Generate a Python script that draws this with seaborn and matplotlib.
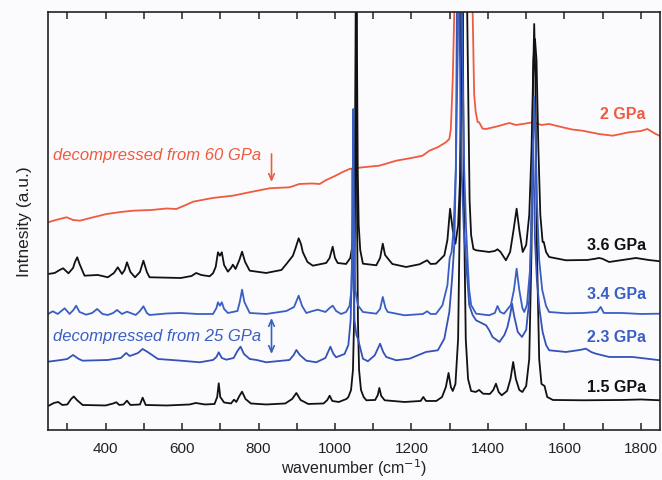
import matplotlib
matplotlib.use("Agg")
import matplotlib.pyplot as plt
from matplotlib.ticker import MultipleLocator
import pandas as pd
import seaborn as sns

# Raman spectra, hand-read (wavenumber in cm^-1, intensity in arbitrary offset units)
wn_2gpa = [250, 270, 298, 315, 333, 360, 403, 440, 472, 520, 560, 585, 610, 629, 680,
           733, 780, 829, 881, 907, 940, 960, 977, 1000, 1020, 1038, 1073, 1116, 1160,
           1200, 1229, 1247, 1270, 1290, 1299, 1303, 1308, 1312, 1320, 1335, 1352, 1360,
           1364, 1368, 1373, 1377, 1386, 1395, 1421, 1456, 1473, 1491, 1517, 1540, 1560,
           1595, 1620, 1647, 1690, 1726, 1769, 1800, 1817, 1839, 1850]
int_2gpa = [207.7, 210, 212.7, 210, 209.3, 212, 216, 218, 219.3, 220, 221.5, 221, 225,
            228.3, 232, 234.3, 238, 241.7, 242.7, 246, 246.5, 246, 250, 254, 258, 261,
            262.7, 264.3, 269.3, 272, 274.3, 279.3, 283, 287.7, 291, 301, 351, 418, 500,
            560, 500, 418, 335, 318, 308, 307.7, 301.3, 301, 303.3, 307, 305, 306, 307.7,
            305, 306, 302.7, 300.5, 299.3, 296, 294.3, 297.7, 299, 301, 296, 294]

wn_36 = [250, 267, 280, 289, 303, 315, 320, 326, 332, 345, 380, 406, 422, 432, 443, 450,
         456, 465, 477, 490, 499, 508, 515, 597, 625, 637, 650, 672, 681, 688, 694, 699,
         704, 710, 720, 728, 733, 740, 750, 757, 765, 777, 820, 860, 873, 890, 897, 905,
         911, 916, 928, 942, 977, 986, 994, 1000, 1007, 1029, 1040, 1046, 1050, 1052.5,
         1054.5, 1056, 1057.5, 1059.5, 1062, 1066, 1073, 1108, 1118, 1125, 1131, 1142,
         1150, 1186, 1221, 1241, 1250, 1264, 1286, 1294, 1301, 1308, 1315, 1322, 1328,
         1333, 1340, 1347, 1352, 1356, 1362, 1369, 1403, 1418, 1425, 1433, 1447, 1458,
         1467, 1475, 1482, 1491, 1500, 1508, 1514, 1519, 1523, 1527, 1532, 1537, 1543,
         1546, 1552, 1560, 1604, 1660, 1682, 1690, 1699, 1717, 1787, 1820, 1850]
int_36 = [156, 157, 160, 161.7, 156.7, 162, 168, 172.7, 166, 154.3, 155, 152.7, 157,
          162.7, 156, 160, 167.7, 158, 152.7, 158, 169.3, 158, 152.7, 152, 154, 157, 155,
          153.7, 156.7, 163, 177.7, 174.3, 177.7, 165, 158.3, 162, 165.3, 161, 170, 178.3,
          168, 159.3, 157, 160, 166, 174.3, 182, 191.7, 186, 177.7, 168, 164.3, 167, 172,
          183.3, 172, 167, 166, 172, 185, 205, 260, 380, 600, 380, 260, 205, 180, 166.3,
          164.7, 172, 186.3, 175, 169.7, 166, 163, 165.7, 169.7, 166, 166.3, 174.7, 190,
          221.3, 200, 186.3, 205, 260, 380, 600, 380, 230, 195, 181, 179.7, 178, 179, 180.7,
          178, 169.7, 178, 200, 221.3, 200, 178, 185, 215, 280, 370, 391, 370, 280, 215,
          188, 188, 178, 173, 169.7, 170, 171.3, 172, 171.3, 168, 172, 170, 168.7]

wn_34 = [250, 262, 275, 293, 306, 316, 323, 332, 349, 365, 378, 392, 406, 420, 430, 443,
         456, 479, 490, 499, 508, 515, 560, 597, 640, 681, 690, 694, 699, 704, 710, 720,
         745, 751, 757, 763, 777, 820, 873, 893, 905, 914, 925, 942, 955, 975, 986, 994,
         1003, 1016, 1029, 1038, 1043, 1046, 1048, 1050, 1053, 1060, 1073, 1108, 1118,
         1125, 1132, 1138, 1182, 1230, 1241, 1250, 1264, 1281, 1294, 1300, 1305, 1310,
         1316, 1321, 1327, 1333, 1338, 1343, 1348, 1351, 1356, 1369, 1403, 1418, 1425,
         1432, 1442, 1460, 1468, 1475, 1482, 1490, 1495, 1502, 1510, 1515, 1519, 1521,
         1524, 1528, 1534, 1542, 1552, 1560, 1604, 1650, 1685, 1695, 1703, 1750, 1800,
         1850]
int_34 = [116, 118.7, 116, 121.7, 116, 120, 124.3, 118, 115.3, 117, 121, 116, 115, 117,
          120, 116, 118.3, 115, 119, 123.7, 117, 115, 116.5, 117, 116, 116, 122, 127.7,
          124.3, 127.7, 121, 117, 119, 128, 140.3, 128, 117, 116, 119, 123, 134.3, 124,
          117, 119, 120.3, 118, 122, 124.3, 119, 116, 118, 124, 140, 190, 321, 190, 140,
          124.7, 118, 116.3, 121, 133, 122, 118, 114.7, 116, 118.7, 116, 116, 124.7,
          144.7, 172, 178, 200, 260, 380, 600, 380, 260, 200, 160, 140, 125, 116.3, 114.7,
          117, 124, 118, 116.3, 125, 140, 161.3, 140, 122, 118, 125, 160, 230, 300, 333,
          300, 230, 170, 140, 124, 118, 116.7, 117, 118, 123, 117, 117, 116, 116.3]

wn_23 = [250, 284, 300, 315, 330, 340, 406, 440, 454, 463, 471, 485, 497, 510, 537, 597,
         646, 681, 690, 696, 704, 716, 735, 745, 753, 762, 777, 795, 820, 881, 892, 899,
         908, 925, 951, 975, 988, 996, 1003, 1025, 1035, 1041, 1044, 1046, 1048, 1051,
         1056, 1060, 1073, 1086, 1104, 1118, 1126, 1134, 1160, 1195, 1238, 1269, 1286,
         1299, 1306, 1312, 1316, 1322, 1326, 1331, 1337, 1343, 1351, 1360, 1369, 1395,
         1403, 1412, 1430, 1443, 1451, 1458, 1463, 1468, 1478, 1489, 1500, 1508, 1513,
         1518, 1523, 1528, 1535, 1543, 1552, 1560, 1604, 1640, 1656, 1670, 1682, 1717,
         1778, 1850]
int_23 = [68.3, 70, 71, 75, 71, 69.3, 70, 72, 77, 74, 75, 77, 81, 78, 71, 69.3, 67.7, 70,
          73, 77.7, 72, 70.3, 72, 79, 83.3, 76, 71, 70, 67.7, 70, 75, 80, 75, 69.3, 67.7,
          72, 83.3, 76, 72.7, 76, 85, 110, 160, 262, 160, 110, 95, 91.3, 71.3, 68.7, 74.7,
          86.3, 78, 73, 69.7, 71.3, 78, 79.7, 91.3, 118, 150, 185, 260, 600, 400, 260,
          200, 168, 125, 115, 109.7, 104.7, 100, 93, 88, 95, 103, 115, 126.3, 115, 98, 93,
          100, 130, 190, 290, 190, 150, 120, 98, 85, 79.7, 78, 80, 81.3, 78, 76.3, 73, 73,
          69.7]

wn_15 = [250, 265, 276, 287, 300, 310, 317, 325, 340, 400, 420, 428, 436, 447, 456, 465,
         490, 497, 505, 560, 620, 636, 660, 685, 692, 696, 700, 710, 728, 736, 742, 750,
         757, 766, 780, 820, 870, 888, 899, 910, 930, 970, 980, 986, 993, 1010, 1030, 1035,
         1042, 1047, 1050, 1052, 1053.5, 1055, 1056.5, 1058, 1060, 1063, 1068, 1075, 1082,
         1105, 1112, 1116, 1121, 1130, 1182, 1224, 1231, 1238, 1265, 1280, 1290, 1297,
         1303, 1308, 1315, 1322, 1327, 1332, 1337, 1342, 1348, 1356, 1368, 1377, 1387,
         1405, 1414, 1421, 1428, 1436, 1450, 1459, 1466, 1473, 1482, 1490, 1500, 1508,
         1514, 1518, 1521, 1524, 1528, 1534, 1540, 1548, 1555, 1570, 1650, 1750, 1800,
         1850]
int_15 = [24, 27, 28, 25, 25.5, 31, 33.5, 30, 25, 24.5, 26.5, 27.7, 25, 25.5, 29.3, 25,
          25.5, 32.3, 25, 24.5, 25.5, 27, 25.5, 26, 33, 46.7, 33, 27.5, 26.5, 30.3, 28, 34,
          38.3, 31, 26.5, 25.5, 26.5, 31, 37, 30, 26, 26.5, 30, 34.3, 29, 28, 31, 33, 40,
          60, 110, 200, 330, 560, 330, 200, 110, 60, 40, 33, 29.7, 30, 35, 42, 34, 29.7,
          28, 29, 33, 29, 29, 33, 43, 57, 43, 39, 46, 91, 231, 560, 231, 91, 51, 39, 38,
          40, 36.3, 36, 40, 46.3, 38, 34.7, 39, 51, 68, 51, 40, 38, 44, 71, 181, 351, 406,
          351, 181, 71, 46, 44, 33, 30, 29.7, 30, 30.5, 29.7]

# Pressure labels at the right end of each trace
pressure_labels = ["2 GPa", "3.6 GPa", "3.4 GPa", "2.3 GPa", "1.5 GPa"]
label_heights = [316, 185, 136, 93, 43]

RED = "#f05a3f"
BLUE = "#3a5fc4"
BLUE_DARK = "#3452b8"
BLACK = "#111111"

sns.set_style("ticks")
plt.rcParams["font.family"] = ["Liberation Sans", "DejaVu Sans"]

fig = plt.figure(figsize=(6.62, 4.81), dpi=100, facecolor="#fbfbfd")
ax = fig.add_axes([0.0728, 0.104, 0.9242, 0.869])
ax.set_facecolor("#fbfbfd")

series = [
    (wn_2gpa, int_2gpa, RED),
    (wn_15, int_15, BLACK),
    (wn_36, int_36, BLACK),
    (wn_23, int_23, BLUE_DARK),
    (wn_34, int_34, BLUE),
]
for wn, inten, col in series:
    df = pd.DataFrame({"wn": wn, "I": inten})
    sns.lineplot(data=df, x="wn", y="I", ax=ax, color=col, lw=1.3,
                 estimator=None, sort=False)

ax.set_xlim(250, 1850)
ax.set_ylim(0, 418)

# right-hand pressure labels
label_colors = [RED, BLACK, BLUE, BLUE, BLACK]
for txt, h, col in zip(pressure_labels, label_heights, label_colors):
    ax.text(1813, h, txt, color=col, fontsize=11.5, fontweight="bold",
            ha="right", va="center")

# decompression annotations
ax.text(262, 275, "decompressed from 60 GPa", color=RED, fontsize=12,
        fontstyle="italic", ha="left", va="center")
ax.annotate("", xy=(834, 248), xytext=(834, 276),
            arrowprops=dict(arrowstyle="->,head_length=0.45,head_width=0.2",
                            color=RED, lw=1.2, shrinkA=0, shrinkB=0))
ax.text(262, 94, "decompressed from 25 GPa", color=BLUE, fontsize=12,
        fontstyle="italic", ha="left", va="center")
ax.annotate("", xy=(834, 76), xytext=(834, 112),
            arrowprops=dict(arrowstyle="<->,head_length=0.45,head_width=0.2",
                            color=BLUE, lw=1.2, shrinkA=0, shrinkB=0))

ax.xaxis.set_major_locator(MultipleLocator(200))
ax.xaxis.set_minor_locator(MultipleLocator(100))
ax.tick_params(axis="x", which="both", direction="in", top=True, bottom=True,
               length=5, width=1.1, labelsize=11, colors="#222222", pad=8)
ax.set_yticks([])
for sp in ax.spines.values():
    sp.set_visible(True)
    sp.set_linewidth(1.2)
    sp.set_color("#222222")

ax.set_xlabel("wavenumber (cm$^{-1}$)", fontsize=11.5, color="#222222")
ax.xaxis.set_label_coords(0.5, -0.064)
ax.set_ylabel("Intnesity (a.u.)", fontsize=12.5, color="#222222", labelpad=12)

fig.savefig("out.png", dpi=100, facecolor=fig.get_facecolor())
